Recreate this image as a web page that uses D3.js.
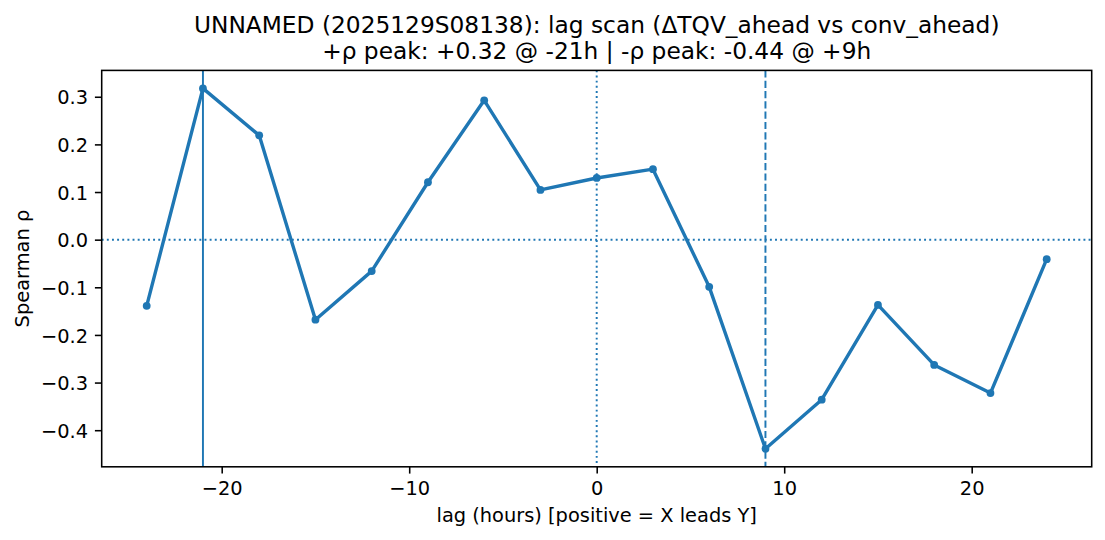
<!DOCTYPE html>
<html>
<head>
<meta charset="utf-8">
<script src="https://cdn.jsdelivr.net/npm/d3@7"></script>
<style>
  html, body { margin: 0; padding: 0; background: #fff; }
  svg { display: block; font-family: "DejaVu Sans", sans-serif; }
</style>
</head>
<body>
<svg id="chart" width="1105" height="540"></svg>
<script>
const lags = [-24, -21, -18, -15, -12, -9, -6, -3, 0, 3, 6, 9, 12, 15, 18, 21, 24];
const rho = [-0.139, 0.3175, 0.219, -0.168, -0.066, 0.1205, 0.2925, 0.1045, 0.1295, 0.148, -0.099, -0.439, -0.336, -0.137, -0.263, -0.322, -0.041];
const xTicks = [-20, -10, 0, 10, 20];
const yTicks = [-0.4, -0.3, -0.2, -0.1, 0.0, 0.1, 0.2, 0.3];
const posPeakLag = -21;
const negPeakLag = 9;
const titleLines = ["UNNAMED (2025129S08138): lag scan (\u0394TQV_ahead vs conv_ahead)",
                    "+\u03c1 peak: +0.32 @ -21h | -\u03c1 peak: -0.44 @ +9h"];
const xLabel = "lag (hours) [positive = X leads Y]";
const yLabel = "Spearman \u03c1";

const color = "#1f77b4";
const fs = 19.4, titleFs = 23.3;
const L = 101.7, R = 1091.7, T = 70.4, B = 466.8;

const svg = d3.select("#chart");

const xr = d3.extent(lags), xm = (xr[1] - xr[0]) * 0.05;
const yr = d3.extent(rho), ym = (yr[1] - yr[0]) * 0.05;
const x = d3.scaleLinear().domain([xr[0] - xm, xr[1] + xm]).range([L, R]);
const y = d3.scaleLinear().domain([yr[0] - ym, yr[1] + ym]).range([B, T]);

const plot = svg.append("g");

// reference lines
plot.append("line")
  .attr("x1", L).attr("x2", R).attr("y1", y(0)).attr("y2", y(0))
  .attr("stroke", color).attr("stroke-width", 1.94).attr("stroke-dasharray", "1.94,3.2");
plot.append("line")
  .attr("x1", x(0)).attr("x2", x(0)).attr("y1", T).attr("y2", B)
  .attr("stroke", color).attr("stroke-width", 1.94).attr("stroke-dasharray", "1.94,3.2");
plot.append("line")
  .attr("x1", x(posPeakLag)).attr("x2", x(posPeakLag)).attr("y1", T).attr("y2", B)
  .attr("stroke", color).attr("stroke-width", 1.94);
plot.append("line")
  .attr("x1", x(negPeakLag)).attr("x2", x(negPeakLag)).attr("y1", T).attr("y2", B)
  .attr("stroke", color).attr("stroke-width", 1.94).attr("stroke-dasharray", "7.2,3.1");

const data = lags.map((l, i) => ({ l, r: rho[i] }));
plot.append("path")
  .datum(data)
  .attr("fill", "none").attr("stroke", color).attr("stroke-width", 3.4)
  .attr("stroke-linejoin", "round").attr("stroke-linecap", "round")
  .attr("d", d3.line().x(d => x(d.l)).y(d => y(d.r)));
plot.selectAll("circle.pt").data(data).enter().append("circle")
  .attr("class", "pt")
  .attr("cx", d => x(d.l)).attr("cy", d => y(d.r)).attr("r", 3.9)
  .attr("fill", color);

// axes
const fmtY = d3.format(".1f");
const xAxis = d3.axisBottom(x).tickValues(xTicks).tickFormat(d3.format("d")).tickSize(6.8).tickPadding(6.8);
const yAxis = d3.axisLeft(y).tickValues(yTicks).tickFormat(fmtY).tickSize(6.8).tickPadding(6.8);

const gx = svg.append("g").attr("transform", `translate(0,${B})`).call(xAxis);
const gy = svg.append("g").attr("transform", `translate(${L},0)`).call(yAxis);
[gx, gy].forEach(g => {
  g.select(".domain").remove();
  g.selectAll(".tick line").attr("stroke", "#000").attr("stroke-width", 1.56);
  g.selectAll(".tick text").attr("fill", "#000").attr("font-size", fs)
    .attr("font-family", "DejaVu Sans, sans-serif");
});
gx.selectAll(".tick text").attr("dy", null).attr("y", 6.8 + 6.8 + 0.0)
  .attr("dominant-baseline", "hanging");
gy.selectAll(".tick text").attr("dy", "0.3645em");

// frame
svg.append("rect").attr("x", L).attr("y", T).attr("width", R - L).attr("height", B - T)
  .attr("fill", "none").attr("stroke", "#000").attr("stroke-width", 1.56);

// labels
svg.append("text").attr("x", (L + R) / 2).attr("y", 522).attr("text-anchor", "middle")
  .attr("font-size", fs).attr("fill", "#000").text(xLabel);
svg.append("text").attr("transform", `translate(28.7,${(T + B) / 2}) rotate(-90)`)
  .attr("text-anchor", "middle").attr("font-size", fs).attr("fill", "#000").text(yLabel);

svg.append("text").attr("x", (L + R) / 2).attr("y", 32.5).attr("text-anchor", "middle")
  .attr("font-size", titleFs).attr("fill", "#000").text(titleLines[0]);
svg.append("text").attr("x", (L + R) / 2).attr("y", 58.5).attr("text-anchor", "middle")
  .attr("font-size", titleFs).attr("fill", "#000").text(titleLines[1]);
</script>
</body>
</html>
